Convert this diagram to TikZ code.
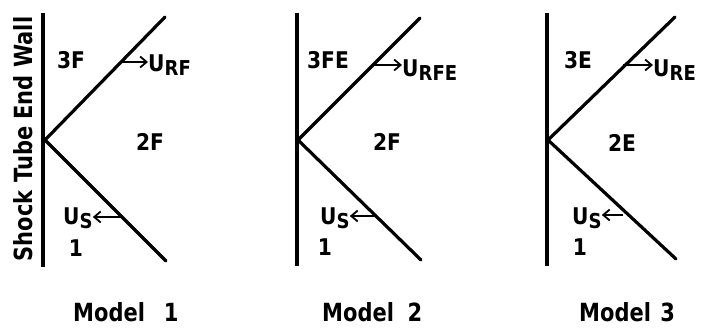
\documentclass[tikz,border=0pt]{standalone}
\usepackage{fontspec}
\setmainfont{DejaVu Sans}
\usetikzlibrary{arrows.meta}
\tikzset{
  wave/.style={line width=3.2pt, line cap=round},
  wallline/.style={line width=3.2pt},
  vel/.style={line width=1.8pt, -{Straight Barb[length=6.5pt,width=11pt,line width=1.8pt]}},
  lbl/.style={inner sep=0pt, font=\fontsize{23}{27}\selectfont\bfseries},
  captxt/.style={inner sep=0pt, font=\fontsize{25}{29}\selectfont\bfseries}
}
\newcommand{\nar}[1]{\scalebox{0.88}[1]{#1}}
\newcommand{\cnar}[1]{\scalebox{0.84}[1]{#1}}
\newcommand{\velo}[1]{\nar{U\raisebox{-4pt}{\fontsize{20.5}{24}\selectfont #1}}}
\begin{document}
\begin{tikzpicture}[x=1pt,y=-1pt]
\useasboundingbox (0,0) rectangle (702,328);
% side label
\node[captxt, rotate=90] (walllabel) at (23,139) {\cnar{Shock Tube End Wall}};
% ---------- Model 1 ----------
\coordinate (wt1) at (43,13);
\coordinate (wb1) at (43,267);
\coordinate (v1) at (45,140);
\coordinate (u1) at (165,17);
\coordinate (l1) at (166,261);
\coordinate (ra1) at (121,62);
\coordinate (sa1) at (121,217);
\draw[wallline] (wt1) -- (wb1);
\draw[wave] (u1) -- (v1) -- (l1);
\node[lbl] (r1) at (71,60) {\nar{3F}};
\node[lbl] (m1) at (150,142) {\nar{2F}};
\node[lbl] (o1) at (76,248) {\nar{1}};
\node[lbl, anchor=base west] (ur1) at (148,72) {\velo{RF}};
\node[lbl, anchor=base west] (us1) at (63,225) {\velo{S}};
\draw[vel] (ra1) -- (ur1.west |- ra1);
\draw[vel] (sa1) -- (us1.east |- sa1);
\node[captxt, anchor=base west] (cap1) at (73,322) {\cnar{Model\hspace{0.9em}1}};
% ---------- Model 2 ----------
\coordinate (wt2) at (297,13);
\coordinate (wb2) at (297,266);
\coordinate (v2) at (298,140);
\coordinate (u2) at (420,18);
\coordinate (l2) at (421,260);
\coordinate (ra2) at (373,65);
\coordinate (sa2) at (375,216);
\draw[wallline] (wt2) -- (wb2);
\draw[wave] (u2) -- (v2) -- (l2);
\node[lbl] (r2) at (328,60) {\nar{3FE}};
\node[lbl] (m2) at (387,142) {\nar{2F}};
\node[lbl] (o2) at (325,247) {\nar{1}};
\node[lbl, anchor=base west] (ur2) at (402,77) {\velo{RFE}};
\node[lbl, anchor=base west] (us2) at (320,225) {\velo{S}};
\draw[vel] (ra2) -- (ur2.west |- ra2);
\draw[vel] (sa2) -- (us2.east |- sa2);
\node[captxt, anchor=base west] (cap2) at (322,322) {\cnar{Model\hspace{0.65em}2}};
% ---------- Model 3 ----------
\coordinate (wt3) at (547,13);
\coordinate (wb3) at (547,266);
\coordinate (v3) at (548,140);
\coordinate (u3) at (675,17);
\coordinate (l3) at (676,259);
\coordinate (ra3) at (623,65);
\coordinate (sa3) at (623,215);
\draw[wallline] (wt3) -- (wb3);
\draw[wave] (u3) -- (v3) -- (l3);
\node[lbl] (r3) at (578,60) {\nar{3E}};
\node[lbl] (m3) at (622,143) {\nar{2E}};
\node[lbl] (o3) at (580,247) {\nar{1}};
\node[lbl, anchor=base west] (ur3) at (653,77) {\velo{RE}};
\node[lbl, anchor=base west] (us3) at (572,225) {\velo{S}};
\draw[vel] (ra3) -- (ur3.west |- ra3);
\draw[vel] (sa3) -- (us3.east |- sa3);
\node[captxt, anchor=base west] (cap3) at (579,322) {\cnar{Model\hspace{0.45em}3}};
\end{tikzpicture}
\end{document}
